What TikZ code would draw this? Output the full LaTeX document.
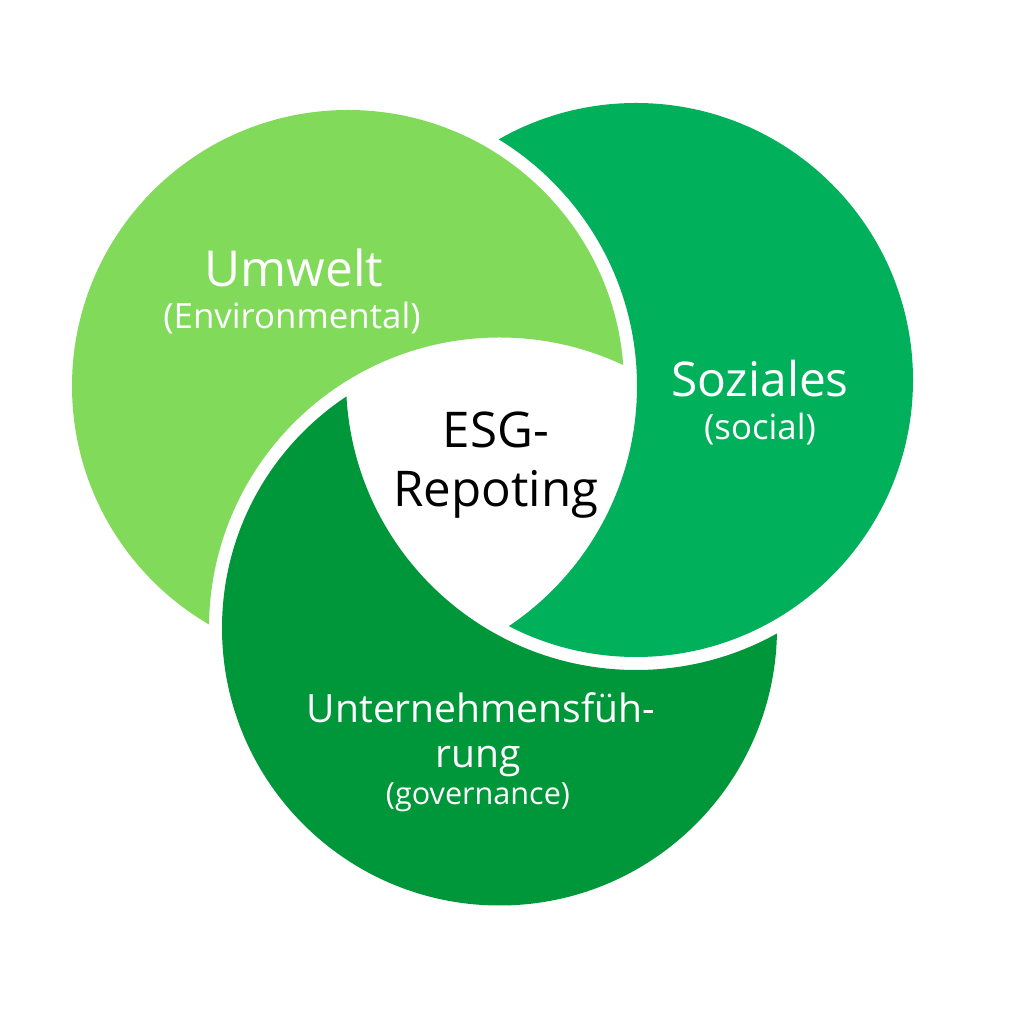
\documentclass[tikz,border=0pt]{standalone}
\usepackage{fontspec}
\setmainfont{Open Sans}
\definecolor{envgreen}{HTML}{82DA5B}
\definecolor{socgreen}{HTML}{00B05A}
\definecolor{govgreen}{HTML}{00963A}
\begin{document}
\begin{tikzpicture}[x=0.01cm,y=0.01cm,
  bigtxt/.style={font=\fontsize{14.1}{16}\selectfont, text=white, inner sep=0pt, anchor=base},
  soztxt/.style={font=\fontsize{13.6}{16}\selectfont, text=white, inner sep=0pt, anchor=base},
  midtxt/.style={font=\fontsize{11.1}{14}\selectfont, text=white, inner sep=0pt, anchor=base},
  smalltxt/.style={font=\fontsize{9.9}{12}\selectfont, text=white, inner sep=0pt, anchor=base},
  govtxt/.style={font=\fontsize{8.7}{10}\selectfont, text=white, inner sep=0pt, anchor=base},
  centertxt/.style={font=\fontsize{14}{16}\selectfont, text=black, inner sep=0pt, anchor=base}]
\useasboundingbox (0,0) rectangle (1024,1024);
\fill[white] (0,0) rectangle (1024,1024);
\coordinate (cL) at (348,638);
\coordinate (cS) at (636,644);
\coordinate (cD) at (499.5,396);
% Umwelt (cut by governance circle)
\begin{scope}
  \clip (cL) circle (276);
  \fill[envgreen, even odd rule] (0,0) rectangle (1024,1024) (cD) circle (290.5);
\end{scope}
% Soziales (cut by Umwelt circle)
\begin{scope}
  \clip (cS) circle (277);
  \fill[socgreen, even odd rule] (0,0) rectangle (1024,1024) (cL) circle (289);
\end{scope}
% Unternehmensfuehrung (cut by Soziales circle)
\begin{scope}
  \clip (cD) circle (277.5);
  \fill[govgreen, even odd rule] (0,0) rectangle (1024,1024) (cS) circle (290);
\end{scope}
% labels
\node[bigtxt] (umw) at (294,737) {Umwelt};
\node[smalltxt] (env) at (292,695) {(Environmental)};
\node[soztxt] (soz) at (760,627) {Soziales};
\node[smalltxt] (soc) at (760,584) {(social)};
\node[centertxt] (esg) at (496,576) {ESG-};
\node[centertxt] (rep) at (496,517) {Repoting};
\node[midtxt] (unt) at (481,301) {Unternehmensfüh-};
\node[midtxt] (rung) at (478,256) {rung};
\node[govtxt] (gov) at (478,219) {(governance)};
\end{tikzpicture}
\end{document}
